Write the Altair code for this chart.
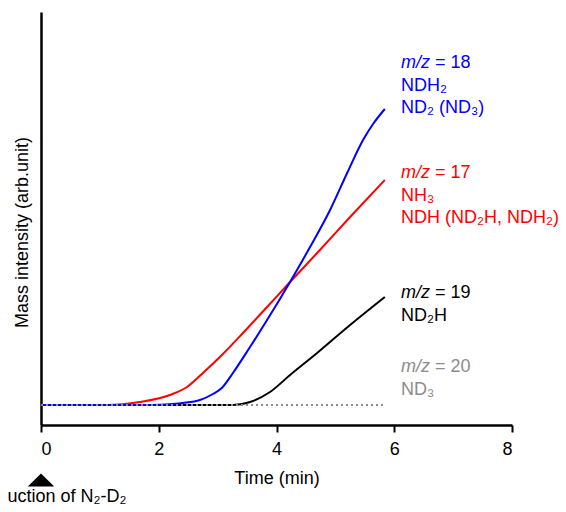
import altair as alt
import pandas as pd

# ---- data (time in min, intensity in arbitrary units) ----
time_mz18 = [0, 1.85, 2.24, 2.41, 2.70, 2.92, 3.07, 3.26, 3.55, 3.84, 4.23, 4.57, 4.91, 5.20, 5.47, 5.64, 5.84]
int_mz18 = [0, 0, 1, 2, 5, 11, 17, 32, 58, 85, 123, 158, 195, 232, 265, 281, 296]

time_mz17 = [0, 1.12, 1.68, 2.19, 2.48, 2.75, 3.09, 3.43, 3.84, 4.23, 4.69, 5.25, 5.84]
int_mz17 = [0, 0, 3, 10, 18, 32, 51, 72, 98, 123, 152, 188, 225]

time_mz19 = [0, 3.26, 3.55, 3.89, 4.23, 4.69, 5.25, 5.84]
int_mz19 = [0, 0, 3, 13, 30, 52, 80, 108]

time_mz20 = [0, 5.84]
int_mz20 = [0, 0]

x_ticks = [0, 2, 4, 6, 8]

mz_values = ["18", "17", "19", "20"]
species_lines = [
    ["NDH₂", "ND₂ (ND₃)"],
    ["NH₃", "NDH (ND₂H, NDH₂)"],
    ["ND₂H"],
    ["ND₃"],
]
series_colors = ["#0000ff", "#ff0000", "#000000", "#8c8c8c"]
marker_label = "Introduction of N₂-D₂"

FONT = "Liberation Sans"
W, H = 471, 413

xs = alt.Scale(domain=[0, 8], nice=False, zero=False)
ys = alt.Scale(domain=[-20, 393], nice=False, zero=False)

x_axis = alt.Axis(
    values=x_ticks, title="Time (min)", grid=False, format="d",
    domainWidth=2.5, domainColor="black", tickWidth=2, tickSize=7,
    tickColor="black", labelFontSize=18, labelPadding=8,
    labelColor="black", titleFontSize=18, titleFontWeight="normal",
    titlePadding=11, titleColor="black", labelFont=FONT, titleFont=FONT)
y_axis = alt.Axis(
    title="Mass intensity (arb.unit)", grid=False, ticks=False,
    labels=False, domainWidth=2.5, domainColor="black",
    titleFontSize=18, titleFontWeight="normal", titlePadding=10,
    titleY=220, titleColor="black", titleFont=FONT)

XE = alt.X("t:Q", scale=xs, axis=x_axis)
YE = alt.Y("v:Q", scale=ys, axis=y_axis)


def line_layer(t, v, color, dash=None):
    df = pd.DataFrame({"t": t, "v": v})
    kw = dict(color=color, strokeWidth=2, interpolate="monotone")
    if dash:
        kw["strokeDash"] = dash
    return alt.Chart(df).mark_line(**kw).encode(x=XE, y=YE)


layers = [
    line_layer(time_mz19, int_mz19, series_colors[2]),
    line_layer(time_mz17, int_mz17, series_colors[1]),
    line_layer(time_mz18, int_mz18, series_colors[0]),
    line_layer(time_mz20, int_mz20, series_colors[3], dash=[2, 3]),
]


def text_layer(s, x, y, color, size=18, style="normal", align="left"):
    df = pd.DataFrame({"label": [s]})
    return alt.Chart(df).mark_text(
        font=FONT, fontSize=size, fontStyle=style, color=color,
        align=align, baseline="alphabetic"
    ).encode(x=alt.value(x), y=alt.value(y), text="label:N")


# annotation block positions (plot-pixel coordinates)
ann_x = 360
ann_y0 = [56, 166, 286, 360]
line_gap = 22.5
for mz, lines, col, y0 in zip(mz_values, species_lines, series_colors, ann_y0):
    layers.append(text_layer("m/z", ann_x, y0, col, style="italic"))
    layers.append(text_layer("= " + mz, ann_x + 34, y0, col))
    for k, s in enumerate(lines):
        layers.append(text_layer(s, ann_x, y0 + line_gap * (k + 1), col))

# arrow marker for gas introduction at t = 0
tri = alt.Chart(pd.DataFrame({"t": [0]})).mark_point(
    shape="M-1,0.5L1,0.5L0,-0.5Z", filled=True, color="black", opacity=1,
    size=700, strokeWidth=0
).encode(x=XE, y=alt.value(468))
layers.append(tri)

lab = alt.Chart(pd.DataFrame({"t": [0], "label": [marker_label]})).mark_text(
    font=FONT, fontSize=18, color="black", align="center", baseline="alphabetic", dx=3
).encode(x=XE, y=alt.value(490), text="label:N")
layers.append(lab)

chart = alt.layer(*layers).properties(
    width=W, height=H,
    autosize=alt.AutoSizeParams(type="none"),
    padding={"left": 33, "top": 4, "right": 46, "bottom": 79},
).configure(font=FONT).configure_view(stroke=None)

chart.save("out.html", embed_options={"renderer": "svg", "actions": False})
